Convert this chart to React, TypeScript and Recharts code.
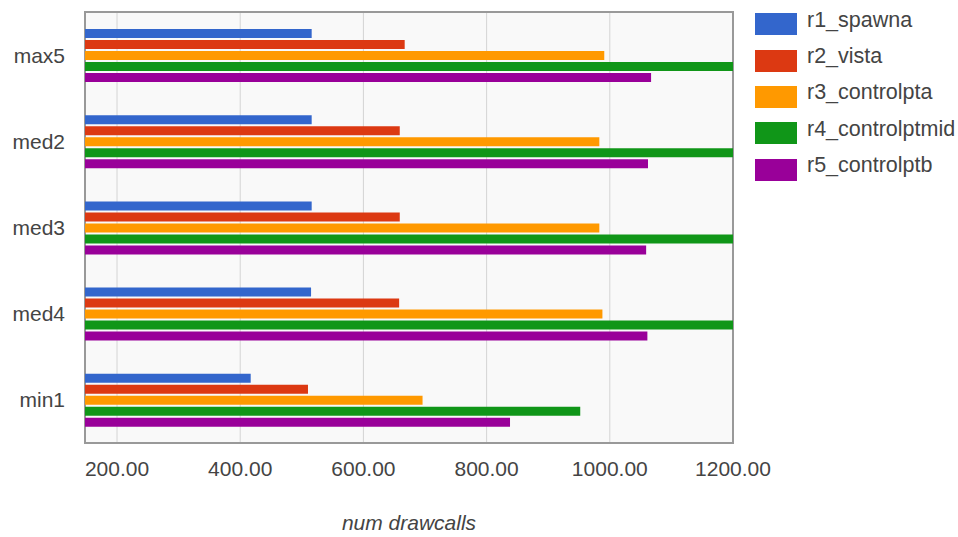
import React from "react";
import {
  BarChart,
  Bar,
  XAxis,
  YAxis,
  CartesianGrid,
  ReferenceArea,
} from "recharts";

const FONT = "'Liberation Sans', Arial, sans-serif";
const TEXT = "#444";

const categories = ["max5", "med2", "med3", "med4", "min1"];
const r1Spawna = [516, 516, 516, 515, 417];
const r2Vista = [667, 659, 659, 658, 510];
const r3Controlpta = [991, 983, 983, 988, 696];
const r4Controlptmid = [1215, 1215, 1215, 1215, 952];
const r5Controlptb = [1067, 1062, 1059, 1061, 838];
const xTicks = [200, 400, 600, 800, 1000, 1200];

const seriesNames = ["r1_spawna", "r2_vista", "r3_controlpta", "r4_controlptmid", "r5_controlptb"];
const seriesColors = ["#3366cc", "#dc3912", "#ff9900", "#109618", "#990099"];
const seriesValues = [r1Spawna, r2Vista, r3Controlpta, r4Controlptmid, r5Controlptb];

const data = categories.map((name, i) => {
  const row: Record<string, string | number> = { name };
  seriesNames.forEach((s, j) => {
    row[s] = seriesValues[j][i];
  });
  return row;
});

function Legend() {
  return (
    <div style={{ position: "absolute", left: 755, top: 6 }}>
      {seriesNames.map((s, i) => (
        <div key={s} style={{ display: "flex", alignItems: "center", height: 36.4 }}>
          <div style={{ width: 42, height: 22, background: seriesColors[i], marginRight: 10 }} />
          <span style={{ fontFamily: FONT, fontSize: 21.5, color: TEXT, position: "relative", top: -4 }}>{s}</span>
        </div>
      ))}
    </div>
  );
}

export default function App() {
  return (
    <div style={{ position: "absolute", left: 0, top: 0, width: 958, height: 537, background: "#fff" }}>
      <BarChart
        width={958}
        height={537}
        data={data}
        layout="vertical"
        margin={{ top: 12, right: 225, bottom: 0, left: 0 }}
        barSize={9}
        barGap={2}
      >
        <CartesianGrid horizontal={false} stroke="#d4d4d4" fill="#f9f9f9" />
        <XAxis
          type="number"
          domain={[148, 1200]}
          ticks={xTicks}
          allowDataOverflow
          height={94}
          axisLine={false}
          tickLine={false}
          tickSize={0}
          tickMargin={18}
          tickFormatter={(v: number) => v.toFixed(2)}
          tick={{ fontSize: 21, fill: TEXT, fontFamily: FONT }}
          label={{
            value: "num drawcalls",
            position: "insideBottom",
            offset: 7,
            style: { fontSize: 21, fontStyle: "italic", fill: TEXT, fontFamily: FONT },
          }}
        />
        <YAxis
          type="category"
          dataKey="name"
          width={85}
          axisLine={false}
          tickLine={false}
          tickSize={0}
          tickMargin={20}
          tick={{ fontSize: 21, fill: TEXT, fontFamily: FONT }}
        />
        {seriesNames.map((s, i) => (
          <Bar key={s} dataKey={s} fill={seriesColors[i]} isAnimationActive={false} />
        ))}
        <ReferenceArea x1={148} x2={1200} fill="none" stroke="#999" strokeWidth={2} ifOverflow="visible" />
      </BarChart>
      <Legend />
    </div>
  );
}
